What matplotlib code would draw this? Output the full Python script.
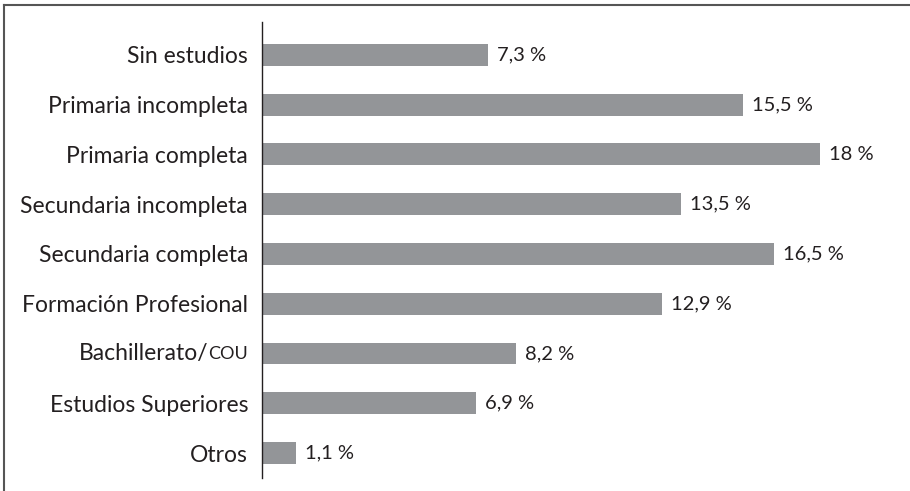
import matplotlib
matplotlib.use("Agg")
import matplotlib.pyplot as plt
from matplotlib.lines import Line2D
from matplotlib.transforms import offset_copy

categories = ["Sin estudios", "Primaria incompleta", "Primaria completa",
              "Secundaria incompleta", "Secundaria completa", "Formación Profesional",
              "Bachillerato/COU", "Estudios Superiores", "Otros"]
values = [7.3, 15.5, 18.0, 13.5, 16.5, 12.9, 8.2, 6.9, 1.1]
value_labels = ["7,3 %", "15,5 %", "18 %", "13,5 %", "16,5 %", "12,9 %", "8,2 %", "6,9 %", "1,1 %"]

plt.rcParams['font.family'] = ['Lato', 'DejaVu Sans']
TXT = "#231f20"
fig = plt.figure(figsize=(9.1, 4.91), dpi=100)
ax = fig.add_axes([262/910, 1-478/491, (905-262)/910, (478-22)/491])

y = list(range(len(categories)))
ax.barh(y, values, height=0.44, color="#939598")
ax.set_ylim(8.5, -0.66)
ax.set_xlim(0, (905-262)/31.0)
for yi, v, lab in zip(y, values, value_labels):
    ax.annotate(lab, (v, yi), xytext=(6.5, 0), textcoords="offset points",
                va="center", ha="left", fontsize=14.5, color=TXT)

ax.set_yticks(y)
shown = [c if "/COU" not in c else "" for c in categories]
ax.set_yticklabels(shown, fontsize=16.5, color=TXT)
ax.tick_params(axis="y", length=0, pad=10)
ax.set_xticks([])
for s in ["top", "right", "bottom"]:
    ax.spines[s].set_visible(False)
ax.spines["left"].set_color(TXT)
ax.spines["left"].set_linewidth(1.0)

# small-caps style "COU"
for yi, c in zip(y, categories):
    if "/COU" in c:
        base, sc = c.split("/")
        tr = ax.get_yaxis_transform()
        t1 = ax.text(0, yi, sc, transform=offset_copy(tr, fig=fig, x=-10, y=0, units="points"),
                     ha="right", va="center", fontsize=13, color=TXT)
        fig.canvas.draw()
        w = t1.get_window_extent().width * 72 / fig.dpi
        ax.text(0, yi, base + "/", transform=offset_copy(tr, fig=fig, x=-10 - w, y=0, units="points"),
                ha="right", va="center", fontsize=16.5, color=TXT)

# outer frame: top and left lines
fig.add_artist(Line2D([4/910, 1], [1-5/491, 1-5/491], transform=fig.transFigure, color="#555555", lw=1.5))
fig.add_artist(Line2D([4/910, 4/910], [0, 1-5/491], transform=fig.transFigure, color="#555555", lw=1.5))

fig.savefig("out.png", dpi=100)
